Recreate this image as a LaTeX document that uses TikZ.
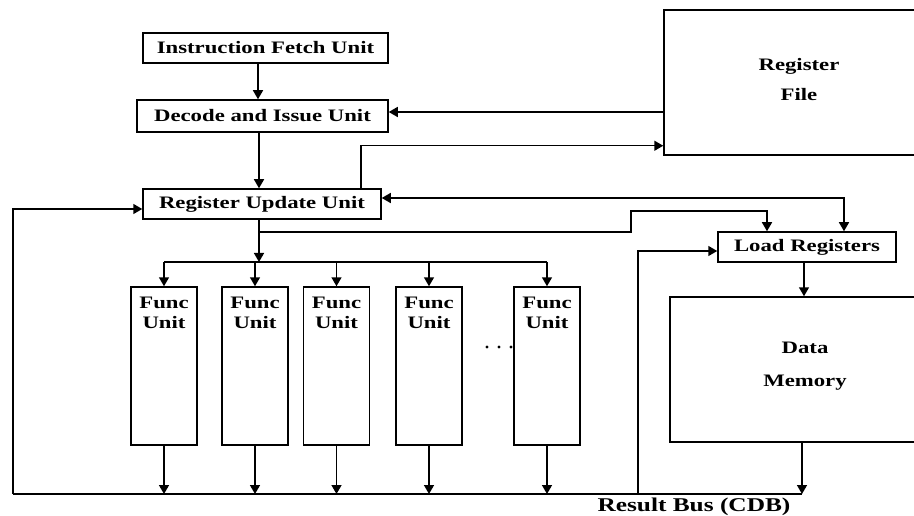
\documentclass[tikz,border=0pt]{standalone}
\usepackage{fontspec}
\newfontfamily\labfont{Liberation Serif}[FakeStretch=1.3]
\usetikzlibrary{arrows.meta,calc}
\begin{document}
\begin{tikzpicture}[x=1pt,y=-1pt,
  line width=1.5pt,
  >={Triangle[length=9pt,width=10pt]},
  box/.style={draw,inner sep=0pt,font=\labfont\bfseries\fontsize{17.5}{20}\selectfont},
  fu/.style={draw,inner sep=0pt,minimum width=66pt,minimum height=158pt},
  lbl/.style={inner sep=0pt,align=center,font=\labfont\bfseries\fontsize{17.5}{20}\selectfont},
  big/.style={draw,inner sep=0pt,minimum width=270pt,minimum height=145pt}
]
\useasboundingbox (0,0) rectangle (914,516);
\clip (0,0) rectangle (914,516);
% boxes
\node[box,minimum width=245pt,minimum height=30pt] (ifu) at (265.5,48) {Instruction Fetch Unit};
\node[box,minimum width=251pt,minimum height=32pt] (diu) at (262.5,116) {Decode and Issue Unit};
\node[box,minimum width=238pt,minimum height=30pt] (ruu) at (262,204) {Register Update Unit};
\node[big] (rf) at (799,82.5) {};
\node[lbl,font=\labfont\bfseries\fontsize{17.5}{30}\selectfont] (rft) at (799,80) {Register\\File};
\node[box,minimum width=178pt,minimum height=30pt] (lr) at (807,247) {Load Registers};
\node[big] (dm) at (805,369.5) {};
\node[lbl,font=\labfont\bfseries\fontsize{17.5}{33}\selectfont] (dmt) at (805,366) {Data\\Memory};
\node[fu] (f1) at (164,366) {};
\node[fu] (f2) at (255,366) {};
\node[fu] (f3) at (336.5,366) {};
\node[fu] (f4) at (429,366) {};
\node[fu] (f5) at (547,366) {};
\foreach \i in {1,...,5}{
  \node[lbl,anchor=north] (t\i) at ([yshift=-10pt]f\i.north) {Func\\Unit};
}
\node[lbl,font=\labfont\bfseries\fontsize{19.5}{22}\selectfont] (rb) at (694,507) {Result Bus (CDB)};
% dots
\fill (487,347) circle (1.7pt);
\fill (499,347) circle (1.7pt);
\fill (511,347) circle (1.7pt);
% coordinates
\coordinate (dl) at (164,262);
\coordinate (dr) at (547,262);
\coordinate (bl) at (13,494);
\coordinate (br) at (802,494);
% connectors
\coordinate (a1) at ([xshift=-7.5pt]ifu.south);
\draw[->] (a1) -- (a1 |- diu.north);
\coordinate (a2) at ([xshift=-3.5pt]diu.south);
\draw[->] (a2) -- (a2 |- ruu.north);
\coordinate (a3) at ([yshift=-29.5pt]rf.west);
\draw[->] (a3) -- (a3 -| diu.east);
\coordinate (a4) at ([xshift=99pt]ruu.north);
\coordinate (a4b) at ([yshift=10pt]rf.south west);
\draw[->] (a4) |- (a4b);
\coordinate (a5) at ([yshift=6pt]ruu.east);
\coordinate (a5b) at ([xshift=37pt]lr.north);
\draw[<->] (a5) -| (a5b);
\coordinate (a6) at ([xshift=-3pt]ruu.south);
\draw[->] (a6) -- (a6 |- dl);
\draw (dl) -- (dr);
\coordinate (j1) at (a6 |- 0,232);
\coordinate (a7) at ([xshift=-40pt]lr.north);
\draw[->] (j1) -- (631,232) -- (631,211) -| (a7);
\foreach \i in {1,...,5}{
  \draw[->] (f\i.north |- dl) -- (f\i.north);
  \draw[->] (f\i.south) -- (f\i.south |- bl);
}
\draw (bl) -- (br);
\coordinate (a8) at ([yshift=-5pt]ruu.west);
\draw[->] (bl) |- (a8);
\coordinate (a9) at ([xshift=-3pt]dm.south);
\draw[->] (a9) -- (a9 |- br);
\coordinate (a10) at (638,494);
\coordinate (a10b) at ([yshift=-4pt]lr.west);
\draw[->] (a10) |- (a10b);
\coordinate (a11) at ([xshift=-3pt]lr.south);
\draw[->] (a11) -- (a11 |- dm.north);
\end{tikzpicture}
\end{document}
